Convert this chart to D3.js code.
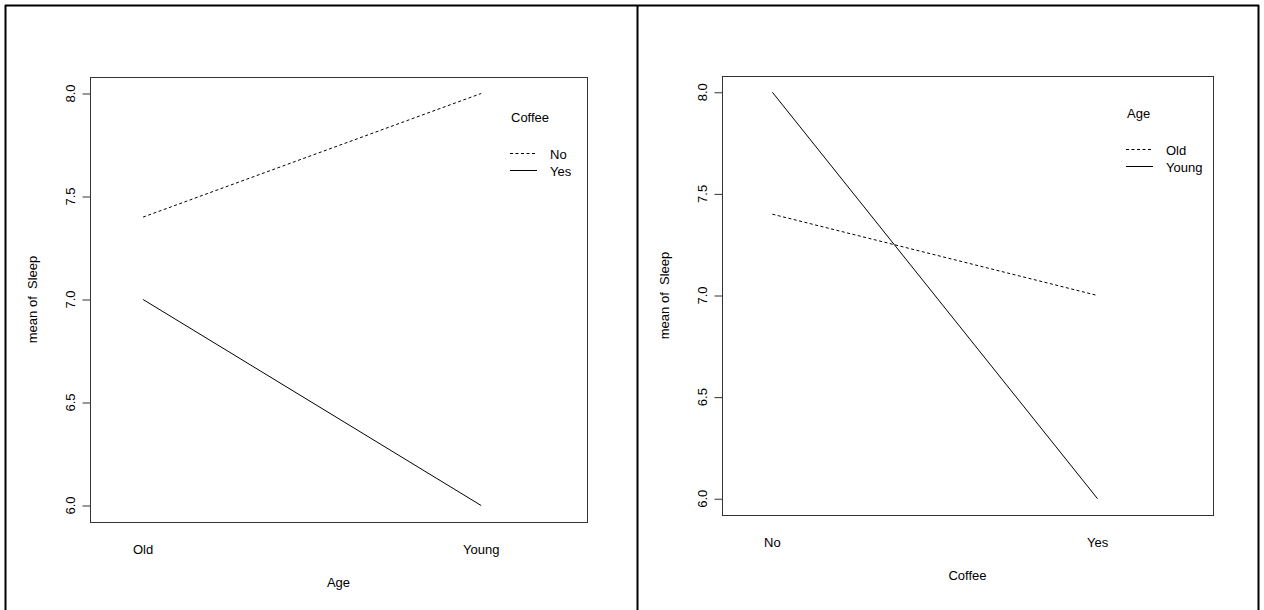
<!DOCTYPE html>
<html>
<head>
<meta charset="utf-8">
<script src="https://cdn.jsdelivr.net/npm/d3@7"></script>
<style>
  body { margin: 0; background: #fff; }
  svg text { font-family: "Liberation Sans", Arial, sans-serif; fill: #000; white-space: pre; }
</style>
</head>
<body>
<svg id="chart" width="1264" height="610"></svg>
<script>
// ---- data ----
const ageLevels = ["Old", "Young"];
const coffeeLevels = ["No", "Yes"];
// mean Sleep by Age (Old, Young) for each Coffee level
const sleepCoffeeNo  = [7.4, 8.0];
const sleepCoffeeYes = [7.0, 6.0];
// mean Sleep by Coffee (No, Yes) for each Age level
const sleepAgeOld   = [7.4, 7.0];
const sleepAgeYoung = [8.0, 6.0];
const yTicks = [6.0, 6.5, 7.0, 7.5, 8.0];
const yTitle = "mean of  Sleep";

const svg = d3.select("#chart");
const FS = 13;

// outer frame
svg.append("line").attr("x1", 5).attr("x2", 1259).attr("y1", 5.5).attr("y2", 5.5)
  .attr("stroke", "#000").attr("stroke-width", 2);
[5.5, 637.5, 1258.5].forEach(x => {
  svg.append("line").attr("x1", x).attr("x2", x).attr("y1", 5).attr("y2", 612)
    .attr("stroke", "#000").attr("stroke-width", 2);
});

function panel(cfg) {
  const g = svg.append("g");
  const x = d3.scaleLinear().domain(cfg.xDomain).range([cfg.left, cfg.right]);
  const y = d3.scaleLinear().domain([5.92, 8.08]).range([cfg.bottom, cfg.top]);

  // plot box
  g.append("rect").attr("x", cfg.left + 0.5).attr("y", cfg.top + 0.5)
    .attr("width", cfg.right - cfg.left).attr("height", cfg.bottom - cfg.top)
    .attr("fill", "none").attr("stroke", "#333").attr("stroke-width", 1);

  // y axis
  const yAxis = d3.axisLeft(y).tickValues(yTicks).tickFormat(d3.format(".1f")).tickSize(8).tickPadding(0);
  const ya = g.append("g").attr("transform", `translate(${cfg.left + 0.5},0)`).call(yAxis);
  ya.select(".domain").remove();
  ya.selectAll(".tick line").attr("stroke", "#333");
  ya.selectAll(".tick text").remove();
  yTicks.forEach(t => {
    g.append("text")
      .attr("transform", `translate(${cfg.left - 20},${y(t)}) rotate(-90)`)
      .attr("text-anchor", "middle").attr("dy", "0.35em")
      .style("font-size", FS + "px").text(d3.format(".1f")(t));
  });

  // x category labels
  cfg.cats.forEach((c, i) => {
    g.append("text").attr("x", x(i + 1)).attr("y", cfg.bottom + 27)
      .attr("text-anchor", "middle").attr("dy", "0.35em")
      .style("font-size", FS + "px").text(c);
  });

  // axis titles
  g.append("text").attr("x", (cfg.left + cfg.right) / 2).attr("y", cfg.bottom + 60)
    .attr("text-anchor", "middle").attr("dy", "0.35em")
    .style("font-size", FS + "px").text(cfg.xTitle);
  g.append("text")
    .attr("transform", `translate(${cfg.left - 58},${(cfg.top + cfg.bottom) / 2}) rotate(-90)`)
    .attr("text-anchor", "middle").attr("dy", "0.35em")
    .attr("xml:space", "preserve")
    .style("font-size", FS + "px").text(yTitle);

  // lines
  const line = d3.line().x((d, i) => x(i + 1)).y(d => y(d));
  cfg.series.forEach(s => {
    g.append("path").datum(s.values).attr("d", line)
      .attr("fill", "none").attr("stroke", "#000").attr("stroke-width", 1)
      .attr("stroke-dasharray", s.dash);
  });

  // legend
  g.append("text").attr("x", cfg.legX).attr("y", cfg.legY)
    .attr("dy", "0.35em").style("font-size", FS + "px").text(cfg.legTitle);
  cfg.series.forEach((s, i) => {
    const yy = cfg.legY + 36 + i * 17;
    g.append("line").attr("x1", cfg.legX - 1).attr("x2", cfg.legX + 26)
      .attr("y1", yy + 0.5).attr("y2", yy + 0.5)
      .attr("stroke", "#000").attr("stroke-width", 1).attr("stroke-dasharray", s.dash);
    g.append("text").attr("x", cfg.legX + 39).attr("y", yy + 1)
      .attr("dy", "0.35em").style("font-size", FS + "px").text(s.name);
  });
}

panel({
  left: 90, right: 587, top: 77, bottom: 522,
  xDomain: [0.843, 2.313],
  cats: ageLevels, xTitle: "Age",
  legTitle: "Coffee", legX: 511, legY: 117,
  series: [
    { name: coffeeLevels[0], values: sleepCoffeeNo, dash: "3,2.5" },
    { name: coffeeLevels[1], values: sleepCoffeeYes, dash: null }
  ]
});

panel({
  left: 722, right: 1213, top: 76, bottom: 515,
  xDomain: [0.845, 2.355],
  cats: coffeeLevels, xTitle: "Coffee",
  legTitle: "Age", legX: 1127, legY: 113,
  series: [
    { name: ageLevels[0], values: sleepAgeOld, dash: "3,2.5" },
    { name: ageLevels[1], values: sleepAgeYoung, dash: null }
  ]
});
</script>
</body>
</html>
